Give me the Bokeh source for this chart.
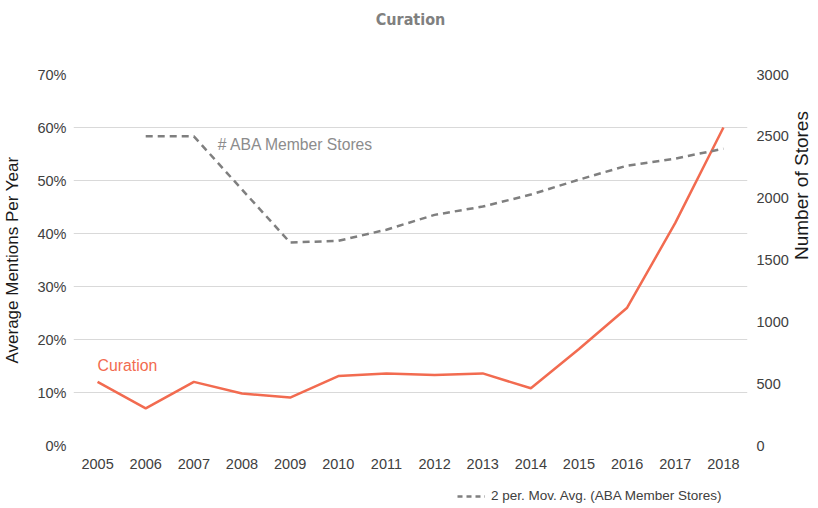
import math
from bokeh.plotting import figure
from bokeh.layouts import column
from bokeh.models import (FactorRange, Range1d, LinearAxis, FixedTicker, NumeralTickFormatter,
                          Legend, LegendItem, ColumnDataSource, Title)
from bokeh.core.properties import value
from bokeh.embed import file_html
from bokeh.resources import INLINE

years = [str(y) for y in range(2005, 2019)]
curation = [0.12, 0.07, 0.12, 0.098, 0.0905, 0.131, 0.136, 0.133, 0.136, 0.108, 0.182, 0.26, 0.42, 0.60]
ma_years = [str(y) for y in range(2006, 2019)]
ma_stores = [2500, 2500, 2070, 1641, 1655, 1745, 1865, 1932, 2029, 2150, 2263, 2320, 2400]
left_ticks = [0, 0.1, 0.2, 0.3, 0.4, 0.5, 0.6, 0.7]
right_ticks = [0, 500, 1000, 1500, 2000, 2500, 3000]

FONT = "Liberation Sans"
ORANGE = "#f26b50"
GRAY = "#7f7f7f"

p = figure(frame_width=674, frame_height=371, x_range=FactorRange(*years, range_padding=0),
           y_range=Range1d(0, 0.7), output_backend="svg", toolbar_location=None,
           min_border_left=73, min_border_right=71, min_border_top=74, min_border_bottom=40)
p.title_location = None
p.extra_y_ranges = {"stores": Range1d(0, 3000)}

# spacer title (between frame and real title), then the real title
p.add_layout(Title(text=" ", standoff=27, text_font_size="16px"), "above")
p.add_layout(Title(text="Curation", align="center", standoff=0, text_color="#808080",
                   text_font="'DejaVu Sans Condensed', Roboto, sans-serif",
                   text_font_size="16px", text_font_style="bold"), "above")

p.outline_line_color = None
p.xgrid.grid_line_color = None
p.ygrid.grid_line_color = "#d9d9d9"
p.ygrid.grid_line_width = 1


def style_axis(ax, size="14.5px"):
    ax.major_label_text_font = FONT
    ax.major_label_text_font_size = size
    ax.major_label_text_color = "#404040"
    ax.axis_line_color = None
    ax.major_tick_line_color = None
    ax.minor_tick_line_color = None
    ax.major_tick_out = 0
    ax.major_tick_in = 0
    ax.minor_tick_out = 0
    ax.minor_tick_in = 0
    ax.axis_label_text_font = FONT
    ax.axis_label_text_font_style = "normal"
    ax.axis_label_text_color = "#1a1a1a"


# left axis
ya = p.yaxis[0]
style_axis(ya)
ya.ticker = FixedTicker(ticks=left_ticks)
ya.formatter = NumeralTickFormatter(format="0%")
ya.axis_label = "Average Mentions Per Year"
ya.axis_label_text_font_size = "17px"
ya.axis_label_standoff = 12
ya.major_label_standoff = 7

# right axis
ra = LinearAxis(y_range_name="stores", ticker=FixedTicker(ticks=right_ticks))
style_axis(ra)
ra.axis_label = "Number of Stores"
ra.axis_label_orientation = math.pi / 2
ra.axis_label_text_font_size = "19px"
ra.axis_label_standoff = 10
ra.major_label_standoff = 9
p.add_layout(ra, "right")

xa = p.xaxis[0]
style_axis(xa)
xa.major_label_standoff = 13

src_c = ColumnDataSource(dict(x=years, y=curation))
src_m = ColumnDataSource(dict(x=ma_years, y=ma_stores))

p.line("x", "y", source=src_c, line_color=ORANGE, line_width=2.5)
p.line("x", "y", source=src_m, y_range_name="stores", line_color=GRAY,
       line_width=2.5, line_dash="7 5")

p.text(x=["2005"], y=[0.151], text=["Curation"], text_color=ORANGE,
       text_font=value(FONT), text_font_size="15.8px", text_baseline="middle", text_align="left")
p.text(x=["2007"], y=[2434], y_range_name="stores", x_offset=24, text=["# ABA Member Stores"],
       text_color="#8c8c8c", text_font=value(FONT), text_font_size="15.7px",
       text_baseline="middle", text_align="left")

# legend strip below the chart (its own small figure; the series line lies outside its range)
leg_fig = figure(width=818, height=23, x_range=FactorRange(*years, range_padding=0),
                 y_range=Range1d(-1, 1), output_backend="svg", toolbar_location=None,
                 x_axis_type=None, y_axis_type=None, min_border=0)
leg_fig.title_location = None
leg_fig.outline_line_color = None
leg_fig.grid.grid_line_color = None
leg_r = leg_fig.line("x", "y", source=src_m, line_color=GRAY, line_width=2.5, line_dash="5 4")

legend = Legend(items=[LegendItem(label="2 per. Mov. Avg. (ABA Member Stores)", renderers=[leg_r])],
                location=(384, 5), orientation="horizontal", padding=0, margin=0,
                border_line_color=None, background_fill_alpha=0,
                glyph_width=28, glyph_height=14, label_standoff=6, label_height=14,
                label_text_font=FONT, label_text_font_size="13.5px", label_text_color="#404040")
leg_fig.add_layout(legend, "center")

layout = column(p, leg_fig, spacing=0)
open("out.html", "w").write(file_html(layout, INLINE))
